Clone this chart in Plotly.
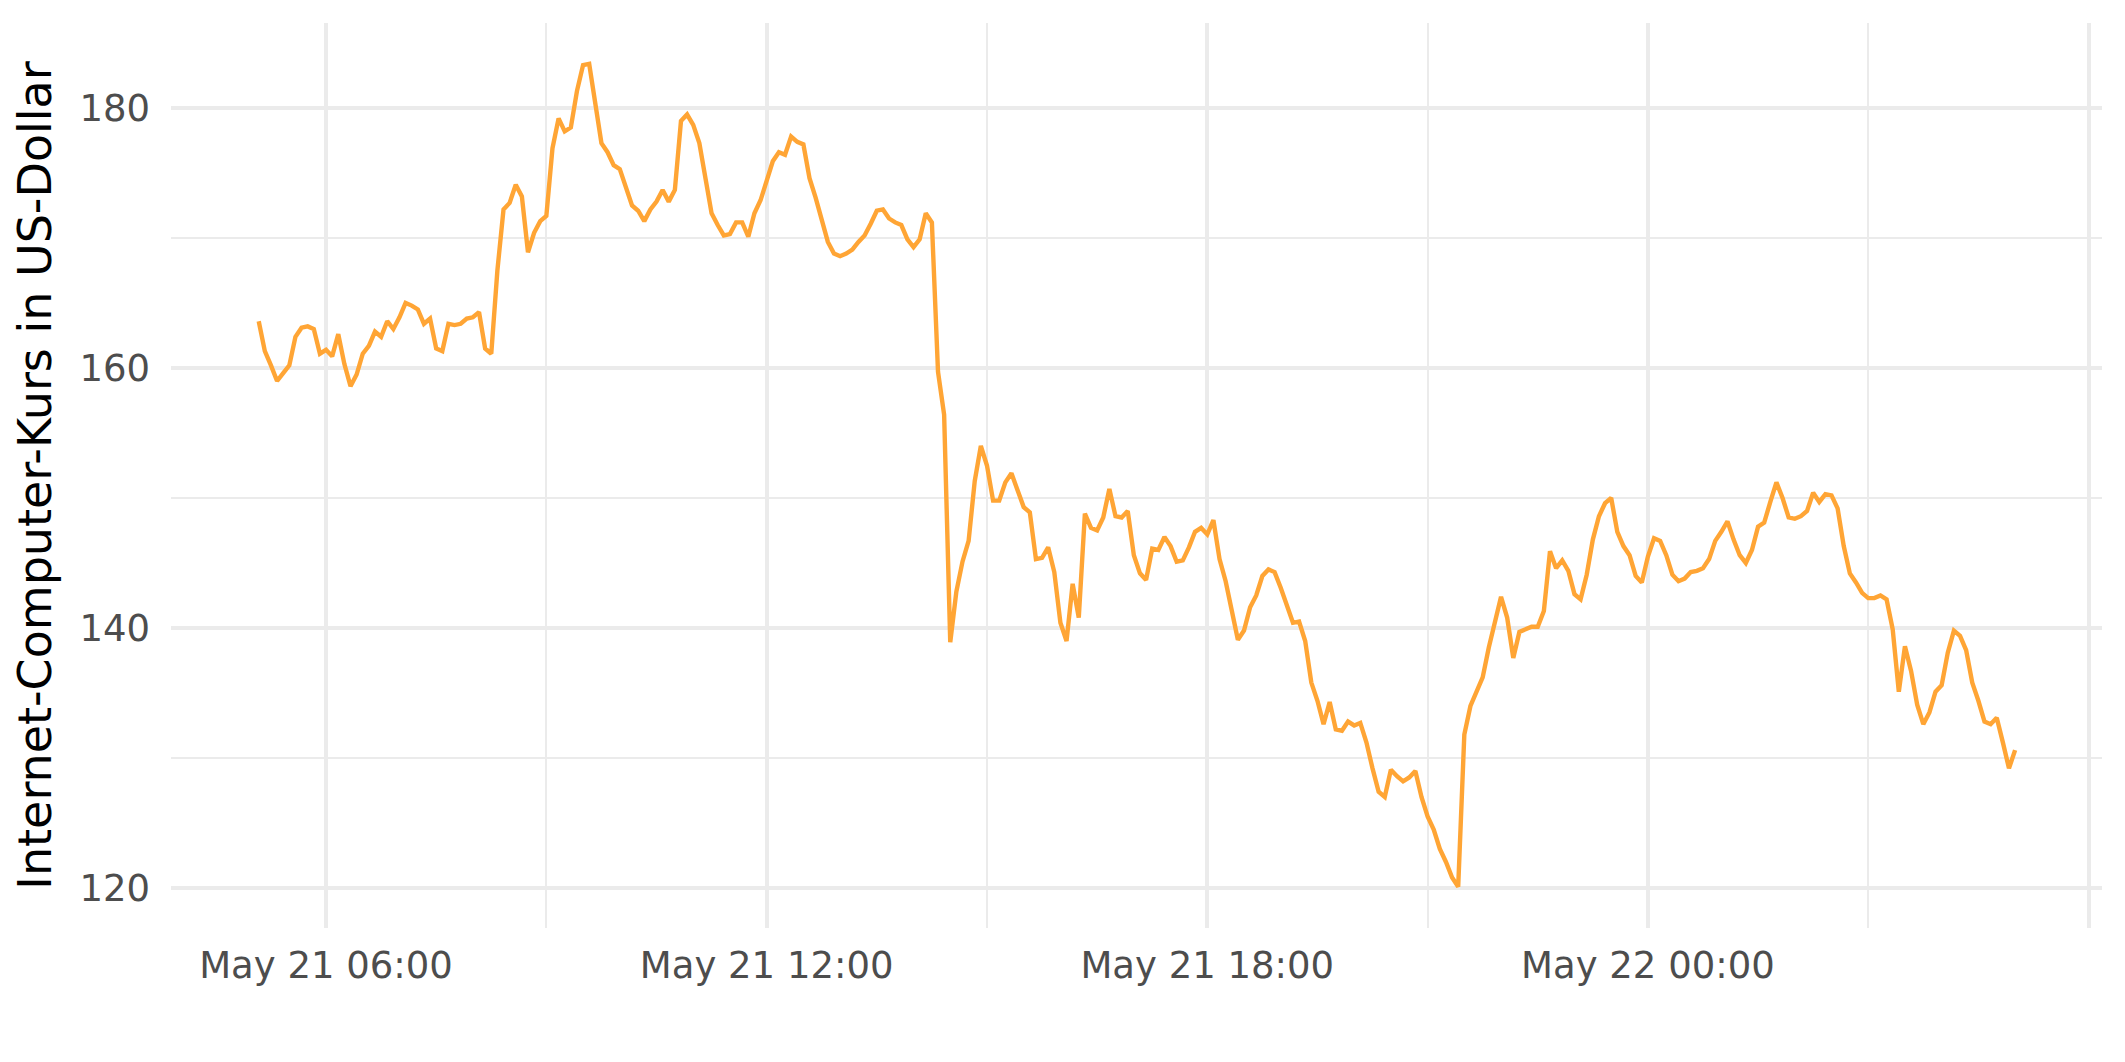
import pandas as pd
import plotly.graph_objects as go

# 5-minute ICP prices, May 21 05:05 -> May 22 05:00 (one row per hour)
start_time = "2021-05-21 05:05"
n_points = 288
prices = [
    163.6, 161.3, 160.2, 159.0, 159.6, 160.2, 162.4, 163.1, 163.2, 163.0, 161.1, 161.4,
    160.9, 162.6, 160.3, 158.6, 159.5, 161.1, 161.7, 162.8, 162.4, 163.6, 163.0, 163.9,
    165.0, 164.8, 164.5, 163.4, 163.8, 161.5, 161.3, 163.4, 163.3, 163.4, 163.8, 163.9,
    164.3, 161.5, 161.1, 167.5, 172.2, 172.7, 174.1, 173.2, 168.9, 170.4, 171.3, 171.7,
    176.9, 179.2, 178.2, 178.5, 181.3, 183.3, 183.4, 180.4, 177.3, 176.6, 175.6, 175.3,
    173.8, 172.5, 172.1, 171.3, 172.2, 172.8, 173.7, 172.8, 173.7, 179.0, 179.5, 178.7,
    177.3, 174.4, 171.9, 171.0, 170.2, 170.3, 171.2, 171.2, 170.1, 171.9, 172.9, 174.4,
    175.9, 176.6, 176.4, 177.8, 177.4, 177.2, 174.6, 173.1, 171.4, 169.7, 168.8, 168.6,
    168.8, 169.1, 169.7, 170.2, 171.1, 172.1, 172.2, 171.5, 171.2, 171.0, 169.9, 169.3,
    169.9, 171.9, 171.2, 159.7, 156.4, 138.9, 142.8, 145.1, 146.7, 151.3, 154.0, 152.5,
    149.8, 149.8, 151.2, 151.9, 150.6, 149.3, 148.9, 145.3, 145.4, 146.2, 144.3, 140.4,
    139.0, 143.4, 140.8, 148.8, 147.7, 147.5, 148.5, 150.7, 148.6, 148.5, 149.0, 145.6,
    144.2, 143.7, 146.1, 146.0, 147.0, 146.3, 145.1, 145.2, 146.2, 147.4, 147.7, 147.2,
    148.3, 145.3, 143.6, 141.2, 139.1, 139.8, 141.6, 142.5, 144.0, 144.5, 144.3, 143.1,
    141.7, 140.4, 140.5, 139.0, 135.8, 134.4, 132.6, 134.3, 132.2, 132.1, 132.8, 132.5,
    132.7, 131.2, 129.2, 127.4, 127.0, 129.1, 128.6, 128.2, 128.5, 129.0, 127.0, 125.5,
    124.5, 123.0, 122.0, 120.8, 120.1, 131.8, 134.0, 135.1, 136.2, 138.5, 140.3, 142.4,
    140.8, 137.7, 139.7, 139.9, 140.1, 140.1, 141.3, 145.9, 144.6, 145.2, 144.4, 142.6,
    142.2, 144.1, 146.8, 148.6, 149.6, 150.0, 147.4, 146.3, 145.6, 144.0, 143.5, 145.5,
    146.9, 146.7, 145.6, 144.1, 143.6, 143.8, 144.3, 144.4, 144.6, 145.3, 146.7, 147.4,
    148.2, 146.8, 145.6, 145.0, 146.0, 147.8, 148.1, 149.7, 151.2, 150.0, 148.5, 148.4,
    148.6, 149.0, 150.4, 149.7, 150.3, 150.2, 149.2, 146.3, 144.2, 143.5, 142.7, 142.3,
    142.3, 142.5, 142.2, 139.9, 135.1, 138.6, 136.7, 134.1, 132.6, 133.5, 135.1, 135.6,
    138.1, 139.8, 139.4, 138.3, 135.8, 134.4, 132.8, 132.6, 133.1, 131.2, 129.2, 130.6,
]
times = pd.date_range(start_time, periods=n_points, freq="5min")

y_title = "Internet-Computer-Kurs in US-Dollar"
x_range = ["2021-05-21 03:53:20", "2021-05-22 06:11:00"]
y_range = [116.92, 186.54]

GRID = "#ebebeb"
TICK_COLOR = "#4d4d4d"
FONT = "DejaVu Sans"

fig = go.Figure(
    go.Scatter(
        x=times, y=prices, mode="lines",
        line=dict(color="#FFA535", width=4.4),
        hoverinfo="skip",
    )
)

# page body has an 8px default margin, so the figure is 8px smaller than the window
fig.update_layout(
    width=2117, height=1054,
    margin=dict(l=163, r=23, t=15, b=134),
    paper_bgcolor="white", plot_bgcolor="white",
    showlegend=False,
    font=dict(family=FONT, color=TICK_COLOR),
)

fig.update_xaxes(
    range=x_range,
    tickformat="%b %d %H:%M",
    tick0="2021-05-21 00:00", dtick=6 * 3600 * 1000,
    showgrid=True, gridcolor=GRID, gridwidth=4,
    minor=dict(dtick=3 * 3600 * 1000, showgrid=True, gridcolor=GRID, gridwidth=2),
    zeroline=False, showline=False, ticks="",
    tickfont=dict(size=37, color=TICK_COLOR, family=FONT),
    ticklabelstandoff=12,
)

fig.update_yaxes(
    range=y_range,
    tick0=120, dtick=20,
    showgrid=True, gridcolor=GRID, gridwidth=4,
    minor=dict(dtick=10, showgrid=True, gridcolor=GRID, gridwidth=2),
    zeroline=False, showline=False, ticks="",
    tickfont=dict(size=37, color=TICK_COLOR, family=FONT),
    ticklabelstandoff=20,
    title=dict(text=y_title, font=dict(size=46, color="black", family=FONT), standoff=18),
)

fig.write_html("out.html")
